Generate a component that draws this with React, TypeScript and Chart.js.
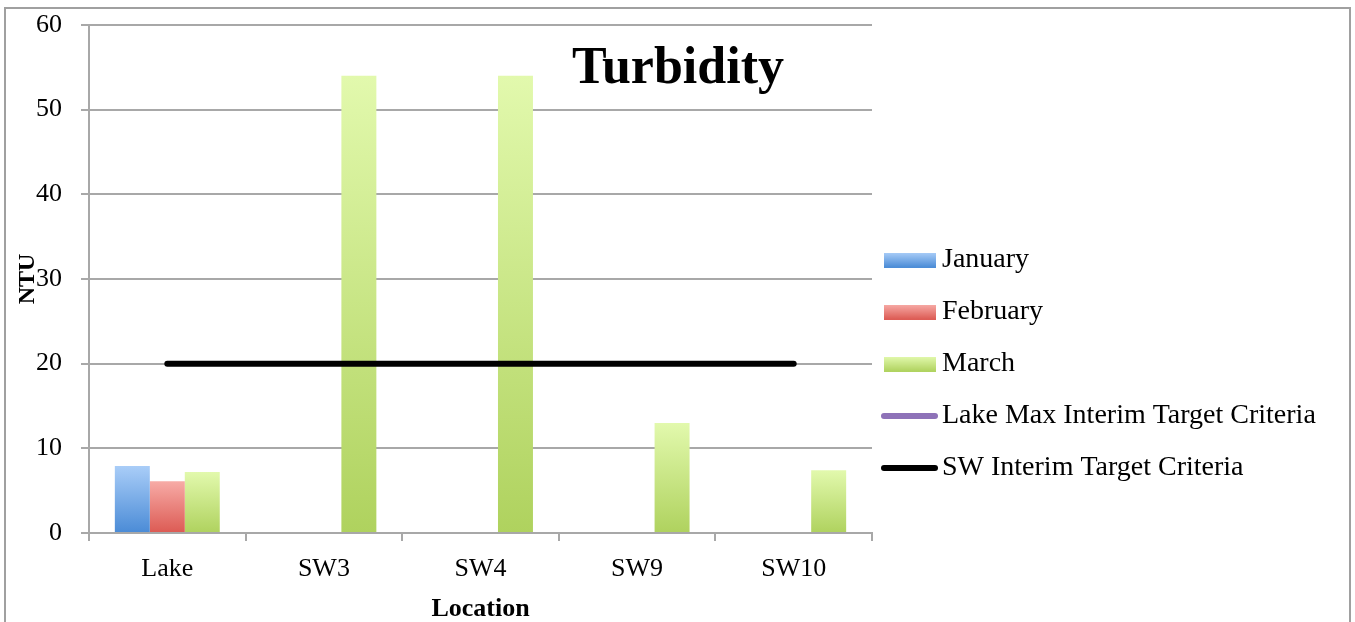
import React, { useEffect, useRef } from 'react';
import { Chart, registerables } from 'chart.js';

Chart.register(...registerables);

const categories = ['Lake', 'SW3', 'SW4', 'SW9', 'SW10'];
const january = [7.9, null, null, null, null];
const february = [6.1, null, null, null, null];
const march = [7.2, 54, 54, 13, 7.4];
const lakeMaxCriteria = [null, null, null, null, null];
const swCriteria = [20, 20, 20, 20, 20];
const seriesNames = ['January', 'February', 'March', 'Lake Max Interim Target Criteria', 'SW Interim Target Criteria'];
const yMin = 0;
const yMax = 60;
const yStep = 10;

const FONT = '"Liberation Serif", "Times New Roman", serif';
const GRID = '#a8a8a8';
const W = 1355;
const H = 703;
const PLOT_LEFT = 89;
const PLOT_RIGHT = 872;
const PLOT_TOP = 25;
const PLOT_BOTTOM = 533;
const LEGEND_FONT = 28;
const LEGEND_PAD = 24;
const LEGEND_BOX = 32;

const JAN = ['#a9cdf8', '#4a8bd6'];
const FEB = ['#f7aba6', '#dc5a53'];
const MAR = ['#e2f9ad', '#afd25e'];
const PURPLE = '#8e72b8';

function barGradient(colors: string[]) {
  return (c: any) => {
    const chart = c.chart;
    const y = chart.scales && chart.scales.y;
    const v = c.raw;
    if (!y || v == null || c.type !== 'data') return colors[1];
    const y0 = y.getPixelForValue(v);
    const y1 = y.getPixelForValue(0);
    if (!isFinite(y0) || !isFinite(y1) || Math.abs(y1 - y0) < 1) return colors[1];
    const g = chart.ctx.createLinearGradient(0, y0, 0, y1);
    g.addColorStop(0, colors[0]);
    g.addColorStop(1, colors[1]);
    return g;
  };
}

function boxImage(colors: string[]) {
  const cv = document.createElement('canvas');
  cv.width = 64;
  cv.height = 15;
  const x = cv.getContext('2d')!;
  const g = x.createLinearGradient(0, 0, 0, 15);
  g.addColorStop(0, colors[0]);
  g.addColorStop(1, colors[1]);
  x.fillStyle = g;
  x.fillRect(4, 0, 52, 15);
  return cv;
}

function lineImage(color: string, width: number) {
  const cv = document.createElement('canvas');
  cv.width = 64;
  cv.height = 10;
  const x = cv.getContext('2d')!;
  x.strokeStyle = color;
  x.lineWidth = width;
  x.lineCap = 'round';
  x.beginPath();
  x.moveTo(4, 5);
  x.lineTo(55, 5);
  x.stroke();
  return cv;
}

const titlePlugin = {
  id: 'turbidityTitle',
  afterDraw(chart: any) {
    const ctx = chart.ctx;
    ctx.save();
    ctx.font = `bold 52px ${FONT}`;
    ctx.fillStyle = '#000';
    ctx.textAlign = 'center';
    ctx.textBaseline = 'alphabetic';
    ctx.fillText('Turbidity', 678, 83);
    ctx.restore();
  },
};

export default function App() {
  const ref = useRef<HTMLCanvasElement>(null);

  useEffect(() => {
    if (!ref.current) return;
    const images = [
      boxImage(JAN),
      boxImage(FEB),
      boxImage(MAR),
      lineImage(PURPLE, 6),
      lineImage('#000', 6),
    ];
    const mctx = document.createElement('canvas').getContext('2d')!;
    mctx.font = `${LEGEND_FONT}px ${FONT}`;
    const tw = Math.max(...seriesNames.map((s) => mctx.measureText(s).width));
    const legendWidth = LEGEND_PAD + LEGEND_BOX + LEGEND_FONT / 2 + tw + 10;
    const padRight = Math.max(0, W - PLOT_RIGHT - legendWidth);

    const chart = new Chart(ref.current, {
      type: 'bar',
      data: {
        labels: categories,
        datasets: [
          { type: 'bar', label: seriesNames[0], data: january, backgroundColor: barGradient(JAN), order: 1, categoryPercentage: 0.67, barPercentage: 1 },
          { type: 'bar', label: seriesNames[1], data: february, backgroundColor: barGradient(FEB), order: 1, categoryPercentage: 0.67, barPercentage: 1 },
          { type: 'bar', label: seriesNames[2], data: march, backgroundColor: barGradient(MAR), order: 1, categoryPercentage: 0.67, barPercentage: 1 },
          { type: 'line', label: seriesNames[3], data: lakeMaxCriteria, borderColor: PURPLE, borderWidth: 6, pointRadius: 0, order: 0, borderCapStyle: 'round' },
          { type: 'line', label: seriesNames[4], data: swCriteria, borderColor: '#000', borderWidth: 6, pointRadius: 0, order: 0, borderCapStyle: 'round' },
        ] as any,
      },
      options: {
        responsive: false,
        animation: false,
        layout: { padding: { top: PLOT_TOP, left: 0, right: padRight, bottom: 0 } },
        plugins: {
          tooltip: { enabled: false },
          legend: {
            position: 'right',
            align: 'center',
            maxWidth: 2000,
            labels: {
              usePointStyle: true,
              pointStyleWidth: LEGEND_BOX,
              boxHeight: 15,
              padding: LEGEND_PAD,
              color: '#000',
              font: { family: FONT, size: LEGEND_FONT },
              generateLabels: (ch: any) =>
                ch.data.datasets.map((d: any, i: number) => ({
                  text: d.label,
                  pointStyle: images[i],
                  fillStyle: 'transparent',
                  strokeStyle: 'transparent',
                  lineWidth: 0,
                  hidden: false,
                  datasetIndex: i,
                })),
            },
          },
        } as any,
        scales: {
          x: {
            offset: true,
            grid: { display: true, drawOnChartArea: false, offset: true, tickLength: 8, color: GRID, lineWidth: 2 },
            border: { display: true, color: GRID, width: 2 },
            ticks: { color: '#000', font: { family: FONT, size: 26 }, padding: 13 },
            title: { display: true, text: 'Location', color: '#000', font: { family: FONT, size: 26, weight: 'bold' }, padding: { top: 0, bottom: 78 } },
            afterFit: (s: any) => {
              s.height = H - PLOT_BOTTOM;
              s.paddingLeft = 0;
              s.paddingRight = 0;
            },
          },
          y: {
            min: yMin,
            max: yMax,
            ticks: { stepSize: yStep, color: '#000', font: { family: FONT, size: 26 }, padding: 19 },
            grid: { color: GRID, lineWidth: 2, tickLength: 8 },
            border: { display: true, color: GRID, width: 2 },
            title: { display: true, text: 'NTU', color: '#000', font: { family: FONT, size: 24, weight: 'bold' }, padding: { top: 13, bottom: 0 } },
            afterFit: (s: any) => {
              s.width = PLOT_LEFT;
              s.paddingTop = 0;
              s.paddingBottom = 0;
            },
          },
        } as any,
      },
      plugins: [titlePlugin],
    });
    return () => chart.destroy();
  }, []);

  return (
    <div style={{ position: 'fixed', inset: 0, overflow: 'hidden', background: '#fff' }}>
      <div style={{ position: 'absolute', left: 4, top: 7, width: 1343, height: 700, border: '2px solid #a0a0a0' }} />
      <canvas ref={ref} width={W} height={H} style={{ position: 'absolute', left: 0, top: 0, width: W, height: H }} />
    </div>
  );
}
